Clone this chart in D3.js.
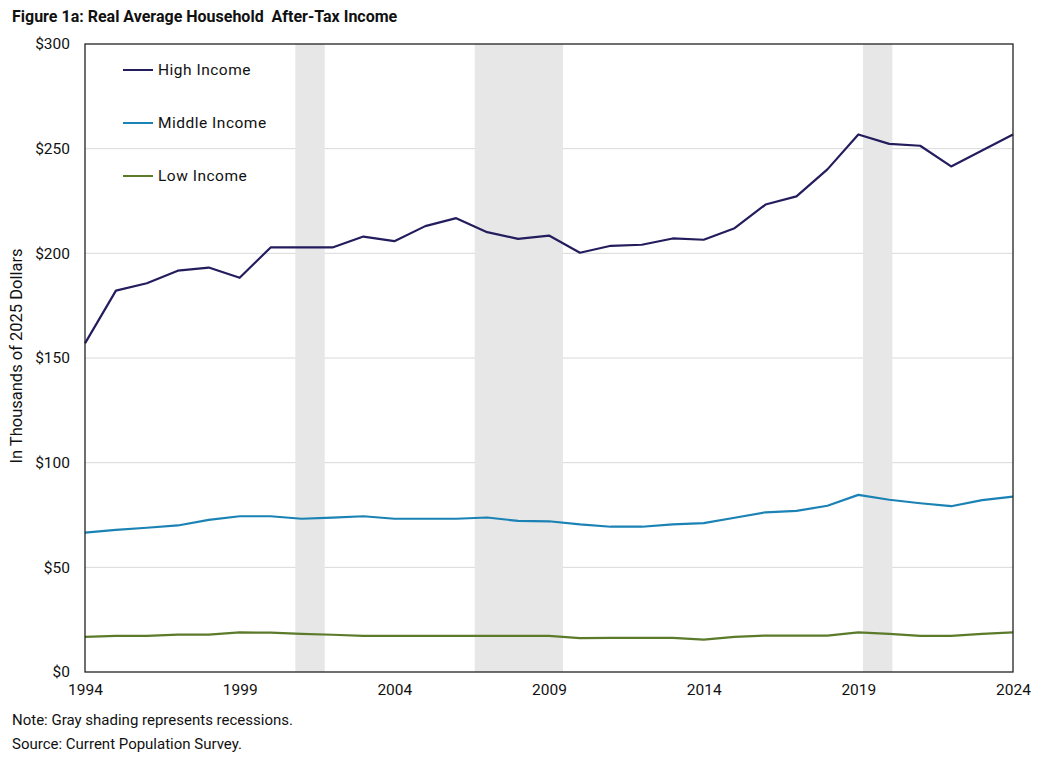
<!DOCTYPE html>
<html>
<head>
<meta charset="utf-8">
<script src="https://cdn.jsdelivr.net/npm/d3@7"></script>
<style>
  body { margin: 0; background: #fff; overflow: hidden; }
  svg { display: block; font-family: Roboto, "Open Sans", sans-serif; }
</style>
</head>
<body>
<svg id="chart"></svg>
<script>
// Years on the x axis
const years = d3.range(1994, 2025);
const xTicks = [1994, 1999, 2004, 2009, 2014, 2019, 2024];
const yTicks = [0, 50, 100, 150, 200, 250, 300];

// Thousands of 2025 dollars
const highIncome = [157, 182.2, 185.7, 191.7, 193.2, 188.3, 202.8, 202.8, 202.8, 208.0,
  205.8, 213.0, 216.8, 210.1, 206.9, 208.5, 200.3, 203.6, 204.1, 207.1,
  206.5, 212.0, 223.3, 227.2, 240.1, 256.8, 252.3, 251.4, 241.5, 249.1, 256.8];
const middleIncome = [66.6, 67.9, 68.9, 70.0, 72.7, 74.4, 74.4, 73.2, 73.7, 74.4,
  73.2, 73.2, 73.2, 73.8, 72.2, 72.0, 70.5, 69.4, 69.4, 70.5,
  71.1, 73.7, 76.3, 77.0, 79.4, 84.6, 82.3, 80.6, 79.2, 82.1, 83.8];
const lowIncome = [16.8, 17.3, 17.3, 17.9, 17.9, 18.9, 18.8, 18.2, 17.8, 17.3,
  17.3, 17.3, 17.3, 17.3, 17.3, 17.3, 16.2, 16.3, 16.3, 16.3,
  15.5, 16.8, 17.4, 17.4, 17.4, 18.9, 18.2, 17.3, 17.3, 18.2, 18.9];

// Recession shading, in fractional years as drawn
const recessions = [[2000.8, 2001.75], [2006.6, 2009.45], [2019.15, 2020.1]];

const seriesNames = ["High Income", "Middle Income", "Low Income"];
const seriesColors = ["#231d5e", "#1a82b4", "#5b7b2b"];

const width = 1044, height = 758;
const margin = { top: 44, right: 31, bottom: 86, left: 85 };
const innerWidth = width - margin.left - margin.right;
const innerHeight = height - margin.top - margin.bottom;

const svg = d3.select("#chart").attr("width", width).attr("height", height);

svg.append("text")
  .attr("x", 12).attr("y", 22)
  .attr("font-size", 16).attr("font-weight", "bold").attr("fill", "#111")
  .text("Figure 1a: Real Average Household\u00a0 After-Tax Income");

const g = svg.append("g").attr("transform", `translate(${margin.left},${margin.top})`);

const x = d3.scaleLinear().domain([1994, 2024]).range([0, innerWidth]);
const y = d3.scaleLinear().domain([0, 300]).range([innerHeight, 0]);

// Gridlines
g.append("g")
  .selectAll("line")
  .data(yTicks.slice(1, -1))
  .join("line")
  .attr("x1", 0).attr("x2", innerWidth)
  .attr("y1", (d) => y(d)).attr("y2", (d) => y(d))
  .attr("stroke", "#d9d9d9").attr("stroke-width", 1);

// Recession bands sit over the gridlines
g.append("g")
  .selectAll("rect")
  .data(recessions)
  .join("rect")
  .attr("x", (d) => x(d[0]))
  .attr("width", (d) => x(d[1]) - x(d[0]))
  .attr("y", 0).attr("height", innerHeight)
  .attr("fill", "#e7e7e7");

// Y axis labels
const yAxis = g.append("g")
  .call(d3.axisLeft(y).tickValues(yTicks).tickFormat((d) => `$${d}`).tickSize(0).tickPadding(15));
yAxis.attr("font-family", null).attr("font-size", 15.5);
yAxis.select(".domain").remove();
yAxis.selectAll("text").attr("fill", "#111");

// X axis labels
const xAxis = g.append("g")
  .attr("transform", `translate(0,${innerHeight})`)
  .call(d3.axisBottom(x).tickValues(xTicks).tickFormat(d3.format("d")).tickSize(0).tickPadding(12));
xAxis.attr("font-family", null).attr("font-size", 15.5);
xAxis.select(".domain").remove();
xAxis.selectAll("text").attr("fill", "#111");

// Lines
const line = d3.line().x((d, i) => x(years[i])).y((d) => y(d));
[highIncome, middleIncome, lowIncome].forEach((vals, i) => {
  g.append("path")
    .datum(vals)
    .attr("d", line)
    .attr("fill", "none")
    .attr("stroke", seriesColors[i])
    .attr("stroke-width", 2.2)
    .attr("stroke-linejoin", "round");
});

// Frame
g.append("rect")
  .attr("width", innerWidth).attr("height", innerHeight)
  .attr("fill", "none").attr("stroke", "#222").attr("stroke-width", 1.3);

// Legend
const legend = g.append("g").attr("transform", "translate(38,26)");
seriesNames.forEach((name, i) => {
  const row = legend.append("g").attr("transform", `translate(0,${i * 53})`);
  row.append("line").attr("x1", 0).attr("x2", 30)
    .attr("stroke", seriesColors[i]).attr("stroke-width", 2);
  row.append("text").attr("x", 35).attr("dy", "0.35em")
    .attr("font-size", 15.5).attr("fill", "#111").attr("letter-spacing", 0.5)
    .text(name);
});

// Y axis title
svg.append("text")
  .attr("transform", `translate(22,${margin.top + 312}) rotate(-90)`)
  .attr("text-anchor", "middle")
  .attr("font-size", 16.5).attr("fill", "#111")
  .text("In Thousands of 2025 Dollars");

// Notes
svg.append("text").attr("x", 12).attr("y", 725)
  .attr("font-size", 15).attr("fill", "#111")
  .text("Note: Gray shading represents recessions.");
svg.append("text").attr("x", 12).attr("y", 749)
  .attr("font-size", 15).attr("fill", "#111")
  .text("Source: Current Population Survey.");
</script>
</body>
</html>
